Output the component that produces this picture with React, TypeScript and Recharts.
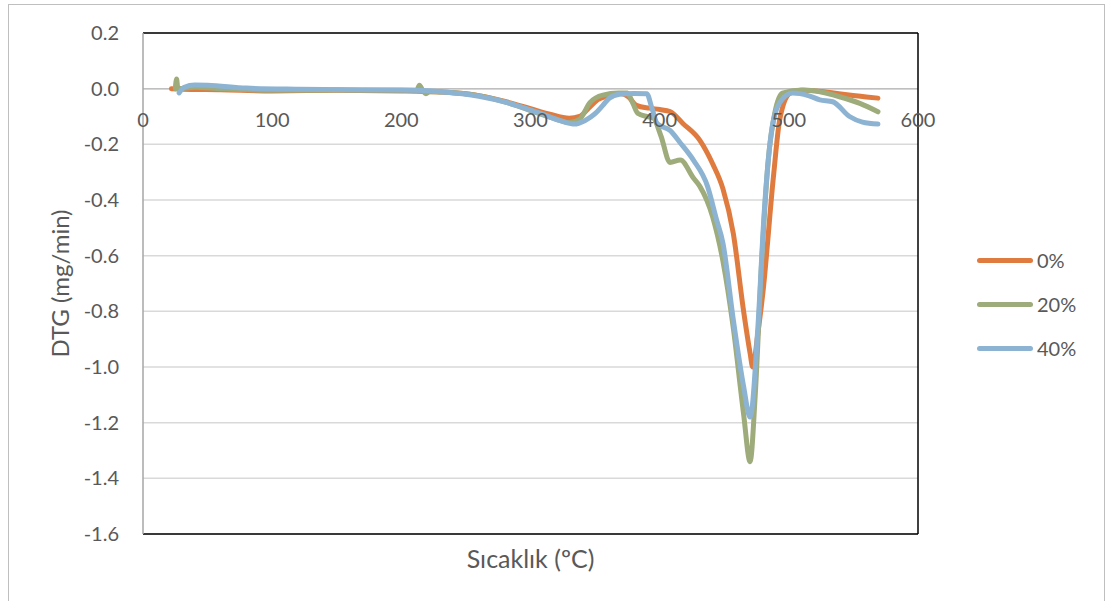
import { LineChart, Line, XAxis, YAxis, CartesianGrid, ReferenceLine, Legend } from 'recharts'

// temperature (°C) and DTG (mg/min)
const TEMP_0 = [22, 30, 60, 100, 150, 200, 230, 260, 282, 300, 315, 330, 338, 345, 352, 360, 370, 376, 382, 392, 400, 408, 418, 431, 441, 449, 457, 465, 470, 472, 476, 480, 488, 493, 501, 509, 525, 545, 560, 569]
const DTG_0 = [0, -0.002, -0.004, -0.008, -0.006, -0.008, -0.012, -0.025, -0.048, -0.072, -0.092, -0.106, -0.1, -0.07, -0.04, -0.025, -0.017, -0.03, -0.06, -0.07, -0.075, -0.082, -0.125, -0.185, -0.27, -0.36, -0.52, -0.8, -0.95, -1.0, -0.88, -0.73, -0.32, -0.11, -0.016, -0.006, -0.01, -0.022, -0.03, -0.034]

const TEMP_20 = [25, 26, 27, 40, 60, 100, 150, 200, 212, 214, 217, 219, 222, 235, 260, 282, 307, 320, 330, 338, 346, 356, 368, 375, 379, 383, 390, 395, 401, 408, 416, 426, 431, 441, 449, 457, 465, 470, 474, 479, 484, 489, 495, 511, 525, 540, 555, 569]
const DTG_20 = [0, 0.035, 0, 0.005, 0, -0.006, -0.005, -0.006, -0.005, 0.012, -0.01, -0.018, -0.01, -0.013, -0.025, -0.05, -0.09, -0.11, -0.122, -0.11, -0.05, -0.023, -0.016, -0.016, -0.05, -0.088, -0.1, -0.105, -0.17, -0.265, -0.256, -0.32, -0.35, -0.46, -0.62, -0.86, -1.17, -1.34, -1.1, -0.62, -0.26, -0.09, -0.016, -0.005, -0.012, -0.03, -0.053, -0.083]

const TEMP_40 = [28, 32, 40, 50, 80, 120, 200, 230, 260, 282, 307, 325, 334, 342, 350, 356, 361, 369, 380, 390, 394, 398, 408, 416, 426, 437, 444, 449, 457, 465, 470, 476, 481, 487, 493, 503, 515, 524, 534, 547, 557, 569]
const DTG_40 = [-0.015, 0.005, 0.013, 0.012, 0.002, -0.002, -0.005, -0.011, -0.027, -0.05, -0.088, -0.118, -0.127, -0.115, -0.09, -0.06, -0.034, -0.02, -0.017, -0.018, -0.07, -0.125, -0.15, -0.195, -0.256, -0.35, -0.47, -0.555, -0.83, -1.07, -1.18, -0.86, -0.44, -0.14, -0.05, -0.016, -0.025, -0.04, -0.047, -0.1, -0.12, -0.127]

const SERIES_NAMES = ['0%', '20%', '40%']
const X_TICKS = [0, 100, 200, 300, 400, 500, 600]
const Y_TICKS = [0.2, 0, -0.2, -0.4, -0.6, -0.8, -1.0, -1.2, -1.4, -1.6]

const COLORS = ['#e07b3f', '#9eab7b', '#8db3d3']
const TEXT = '#595959'
const FONT = 'Lato, "Open Sans", sans-serif'

const W = 1095
const H = 600
const PLOT_LEFT = 134
const PLOT_TOP = 28
const PLOT_W = 775
const PLOT_H = 501
const X_AXIS_H = 30
const Y_MAX = 0.2
const Y_MIN = -1.6
const ZERO_Y = PLOT_TOP + (PLOT_H * Y_MAX) / (Y_MAX - Y_MIN)

const toRows = (ts: number[], vs: number[]) => ts.map((t, i) => ({ t, v: vs[i] }))
const seriesData = [toRows(TEMP_0, DTG_0), toRows(TEMP_20, DTG_20), toRows(TEMP_40, DTG_40)]

function XTick(props: any) {
  const { x, payload } = props
  return (
    <text x={x} y={ZERO_Y + 38} textAnchor="middle" fill={TEXT} fontSize={20} fontFamily={FONT}>
      {payload.value}
    </text>
  )
}

function LegendBox() {
  return (
    <div style={{ fontFamily: FONT, fontSize: 20, color: TEXT }}>
      {SERIES_NAMES.map((name, i) => (
        <div key={name} style={{ display: 'flex', alignItems: 'center', height: 44 }}>
          <span style={{ display: 'inline-block', width: 56, height: 5, borderRadius: 3, background: COLORS[i], marginRight: 4 }} />
          <span>{name}</span>
        </div>
      ))}
    </div>
  )
}

export default function App() {
  return (
    <div
      style={{
        position: 'absolute',
        left: 8,
        top: 4,
        width: W,
        height: H,
        border: '1px solid #bfbfbf',
        background: '#fff',
      }}
    >
      <LineChart
        width={W}
        height={H}
        margin={{ top: PLOT_TOP, left: 0, right: W - PLOT_LEFT - PLOT_W, bottom: H - PLOT_TOP - PLOT_H - X_AXIS_H }}
      >
        <CartesianGrid vertical={false} stroke="#d9d9d9" strokeWidth={1.5} />
        <XAxis
          type="number"
          dataKey="t"
          domain={[0, 600]}
          ticks={X_TICKS}
          allowDataOverflow
          axisLine={false}
          tickLine={false}
          tick={<XTick />}
          height={X_AXIS_H}
          label={{ value: 'Sıcaklık (ºC)', position: 'insideBottom', offset: -4, fill: TEXT, fontSize: 25, fontFamily: FONT }}
        />
        <YAxis
          type="number"
          domain={[Y_MIN, Y_MAX]}
          ticks={Y_TICKS}
          interval={0}
          width={PLOT_LEFT}
          allowDataOverflow
          tickFormatter={(v: number) => v.toFixed(1)}
          tick={{ fill: TEXT, fontSize: 20, fontFamily: FONT }}
          tickLine={false}
          tickSize={0}
          tickMargin={24}
          axisLine={{ stroke: '#a6a6a6', strokeWidth: 1.5 }}
          label={{ value: 'DTG (mg/min)', angle: -90, position: 'insideLeft', offset: 51, fill: TEXT, fontSize: 24, fontFamily: FONT, style: { textAnchor: 'middle' } }}
        />
        <ReferenceLine y={0} stroke="#bfbfbf" strokeWidth={1.5} />
        <ReferenceLine y={Y_MAX} stroke="#000" strokeWidth={1.5} />
        <ReferenceLine y={Y_MIN} stroke="#000" strokeWidth={1.5} />
        <ReferenceLine x={600} stroke="#000" strokeWidth={1.5} />
        <Legend
          layout="horizontal"
          align="center"
          verticalAlign="middle"
          content={<LegendBox />}
          wrapperStyle={{ left: 968, top: 233, width: 120 }}
        />
        {seriesData.map((rows, i) => (
          <Line
            key={SERIES_NAMES[i]}
            data={rows}
            dataKey="v"
            name={SERIES_NAMES[i]}
            type="monotone"
            stroke={COLORS[i]}
            strokeWidth={5}
            strokeLinecap="round"
            strokeLinejoin="round"
            dot={false}
            activeDot={false}
            isAnimationActive={false}
          />
        ))}
      </LineChart>
    </div>
  )
}
